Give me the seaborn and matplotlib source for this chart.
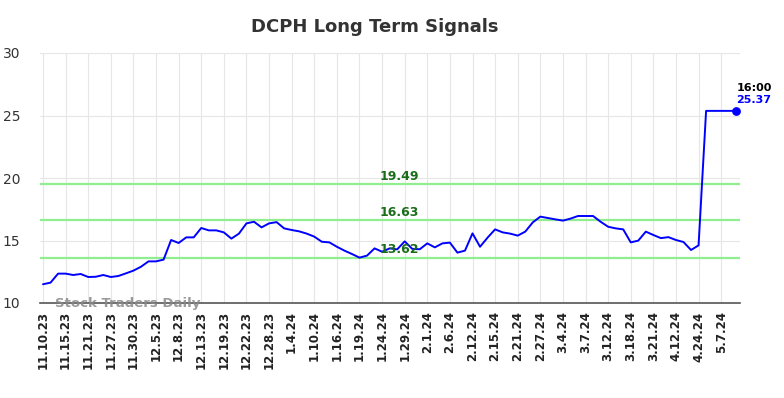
import numpy as np
import pandas as pd
import matplotlib
matplotlib.use("Agg")
import matplotlib.pyplot as plt
import seaborn as sns

# Closing prices (one per trading session)
prices = [
    11.50, 11.63, 12.35, 12.35, 12.24, 12.32, 12.08, 12.10, 12.24, 12.08,
    12.16, 12.37, 12.59, 12.90, 13.33, 13.33, 13.47, 15.04, 14.80, 15.25,
    15.25, 16.00, 15.81, 15.81, 15.65, 15.15, 15.55, 16.37, 16.50, 16.05,
    16.37, 16.47, 15.97, 15.84, 15.73, 15.55, 15.31, 14.90, 14.85, 14.50,
    14.19, 13.92, 13.63, 13.79, 14.37, 14.10, 14.37, 14.29, 14.93, 14.33,
    14.30, 14.77, 14.45, 14.77, 14.83, 14.03, 14.19, 15.57, 14.50, 15.23,
    15.89, 15.65, 15.55, 15.39, 15.71, 16.45, 16.91, 16.80, 16.69, 16.59,
    16.75, 16.96, 16.96, 16.96, 16.50, 16.10, 15.97, 15.89, 14.85, 14.99,
    15.71, 15.44, 15.19, 15.27, 15.04, 14.88, 14.24, 14.61, 25.37, 25.37,
    25.37, 25.37, 25.37,
]

tick_labels = [
    "11.10.23", "11.15.23", "11.21.23", "11.27.23", "11.30.23", "12.5.23",
    "12.8.23", "12.13.23", "12.19.23", "12.22.23", "12.28.23", "1.4.24",
    "1.10.24", "1.16.24", "1.19.24", "1.24.24", "1.29.24", "2.1.24",
    "2.6.24", "2.12.24", "2.15.24", "2.21.24", "2.27.24", "3.4.24",
    "3.7.24", "3.12.24", "3.18.24", "3.21.24", "4.12.24", "4.24.24", "5.7.24",
]

signal_levels = [19.49, 16.63, 13.62]
last_time = "16:00"

df = pd.DataFrame({"idx": np.arange(len(prices)), "price": prices})

sns.set_style("whitegrid", {"grid.color": "#e6e6e6", "axes.edgecolor": "#555555"})

fig = plt.figure(figsize=(7.84, 3.98), dpi=100)
ax = fig.add_axes([40 / 784, 1 - 303 / 398, 700 / 784, 250 / 398])

# signal levels
for lvl in signal_levels:
    ax.axhline(lvl, color="#90ee90", lw=1.6, zorder=1)
    ax.text(47.3, lvl + 0.12, f"{lvl:.2f}", color="#1a6e1a", fontsize=9,
            fontweight="bold", ha="center", va="bottom", zorder=3)

sns.lineplot(data=df, x="idx", y="price", color="blue", lw=1.4, ax=ax, zorder=2)
ax.scatter(df["idx"].iloc[-1], df["price"].iloc[-1], color="blue", s=28, zorder=4)

ax.text(df["idx"].iloc[-1], df["price"].iloc[-1] + 1.85, last_time, fontsize=8,
        fontweight="bold", color="black", ha="left", va="center")
ax.text(df["idx"].iloc[-1], df["price"].iloc[-1] + 0.88, f"{prices[-1]:.2f}", fontsize=8,
        fontweight="bold", color="blue", ha="left", va="center")

ax.text(1.6, 10.0, "Stock Traders Daily", fontsize=9.5, fontweight="bold",
        color="#888888", alpha=0.85, ha="left", va="center", zorder=5)

ax.set_xlim(-0.4, len(prices) - 0.5)
ax.set_ylim(10, 30)
ax.set_yticks([10, 15, 20, 25, 30])
ax.set_xticks(np.arange(0, 3 * len(tick_labels), 3))
ax.set_xticklabels(tick_labels, rotation=90, fontsize=8.5, fontweight="bold", color="#222222")
ax.tick_params(axis="y", labelsize=10, colors="#333333", length=0, pad=14)
ax.tick_params(axis="x", length=0, pad=6)
ax.set_xlabel("")
ax.set_ylabel("")

for side in ["left", "right", "top"]:
    ax.spines[side].set_visible(False)
ax.spines["bottom"].set_color("#555555")
ax.spines["bottom"].set_linewidth(1.2)

fig.suptitle("DCPH Long Term Signals", x=0.478, y=0.955, fontsize=13,
             fontweight="bold", color="#333333")

fig.savefig("out.png", dpi=100)
